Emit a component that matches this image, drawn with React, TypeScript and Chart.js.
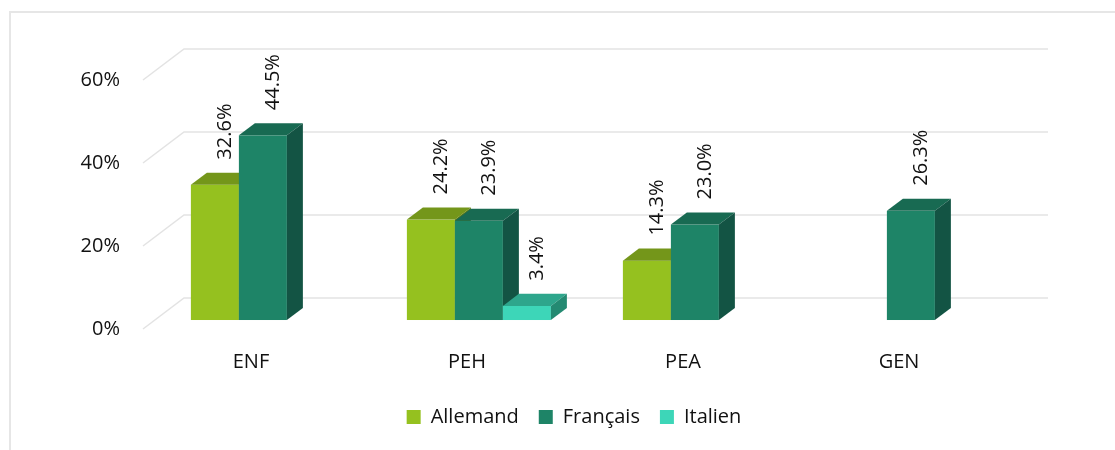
import React, { useEffect, useRef } from "react";
import { Chart, registerables } from "chart.js";

Chart.register(...registerables);

const categories = ["ENF", "PEH", "PEA", "GEN"];
const seriesNames = ["Allemand", "Français", "Italien"];
const allemand: (number | null)[] = [32.6, 24.2, 14.3, null];
const francais: (number | null)[] = [44.5, 23.9, 23.0, 26.3];
const italien: (number | null)[] = [null, 3.4, null, null];
const yTicks = [0, 20, 40, 60];

const FRONT = ["#95c11f", "#1e8467", "#3dd6b8"];
const TOP = ["#74961a", "#186a52", "#2ea68c"];
const SIDE = ["#5f7d14", "#135444", "#248a72"];

const WALL_DX = 41;
const WALL_DY = -31;
const BAR_F = 0.29;
const BAR_B = 0.68;

const FONT = { family: "'Open Sans', sans-serif", size: 20 };
const TEXT = "#111111";

const threeD = {
  id: "threeD",
  beforeDraw(chart: any) {
    const ctx = chart.ctx;
    ctx.save();
    ctx.fillStyle = "#ffffff";
    ctx.fillRect(0, 0, chart.width, chart.height);
    ctx.strokeStyle = "#e6e6e6";
    ctx.lineWidth = 2;
    ctx.strokeRect(10, 12, chart.width + 50, chart.height + 50);
    ctx.restore();
  },
  beforeDatasetsDraw(chart: any) {
    const { ctx, chartArea, scales } = chart;
    const ys = scales.y;
    ctx.save();
    ctx.strokeStyle = "#e3e3e3";
    ctx.lineWidth = 1.5;
    for (const t of yTicks) {
      const py = ys.getPixelForValue(t);
      ctx.beginPath();
      ctx.moveTo(chartArea.left, py);
      ctx.lineTo(chartArea.left + WALL_DX, py + WALL_DY);
      ctx.lineTo(chartArea.right + WALL_DX, py + WALL_DY);
      ctx.stroke();
    }
    const fx = WALL_DX * BAR_F;
    const fy = WALL_DY * BAR_F;
    const dx = WALL_DX * (BAR_B - BAR_F);
    const dy = WALL_DY * (BAR_B - BAR_F);
    const labels: { x: number; y: number; text: string }[] = [];
    for (let i = 0; i < categories.length; i++) {
      chart.data.datasets.forEach((ds: any, d: number) => {
        const v = ds.data[i];
        if (v == null) return;
        const el = chart.getDatasetMeta(d).data[i];
        const { x, y, base, width } = el.getProps(["x", "y", "base", "width"], true);
        const l = x - width / 2 + fx;
        const r = x + width / 2 + fx;
        const t = y + fy;
        const b = base + fy;
        ctx.fillStyle = FRONT[d];
        ctx.fillRect(l, t, r - l, b - t);
        ctx.fillStyle = TOP[d];
        ctx.beginPath();
        ctx.moveTo(l, t);
        ctx.lineTo(l + dx, t + dy);
        ctx.lineTo(r + dx, t + dy);
        ctx.lineTo(r, t);
        ctx.closePath();
        ctx.fill();
        ctx.fillStyle = SIDE[d];
        ctx.beginPath();
        ctx.moveTo(r, t);
        ctx.lineTo(r + dx, t + dy);
        ctx.lineTo(r + dx, b + dy);
        ctx.lineTo(r, b);
        ctx.closePath();
        ctx.fill();
        labels.push({ x: x + fx + dx / 2 + 2, y: t + dy - 13, text: v.toFixed(1) + "%" });
      });
    }
    ctx.fillStyle = TEXT;
    ctx.font = `${FONT.size}px ${FONT.family}`;
    ctx.textAlign = "left";
    ctx.textBaseline = "middle";
    for (const lb of labels) {
      ctx.save();
      ctx.translate(lb.x, lb.y);
      ctx.rotate(-Math.PI / 2);
      ctx.fillText(lb.text, 0, 0);
      ctx.restore();
    }
    ctx.restore();
    return false;
  },
};

export default function App() {
  const ref = useRef<HTMLCanvasElement | null>(null);
  useEffect(() => {
    if (!ref.current) return;
    const chart = new Chart(ref.current, {
      type: "bar",
      data: {
        labels: categories,
        datasets: [
          { label: seriesNames[0], data: allemand, backgroundColor: FRONT[0], borderWidth: 0 },
          { label: seriesNames[1], data: francais, backgroundColor: FRONT[1], borderWidth: 0 },
          { label: seriesNames[2], data: italien, backgroundColor: FRONT[2], borderWidth: 0 },
        ],
      },
      options: {
        animation: false,
        responsive: false,
        devicePixelRatio: 1,
        layout: { padding: { top: 80, left: 33, right: 0, bottom: 13 } },
        datasets: { bar: { categoryPercentage: 2 / 3, barPercentage: 1 } } as any,
        scales: {
          x: {
            grid: { display: false, drawTicks: false },
            border: { display: false },
            ticks: { font: FONT, color: TEXT, padding: 21 },
            afterFit(s: any) {
              s.height = 58;
            },
          },
          y: {
            min: 0,
            max: 60,
            afterBuildTicks(s: any) {
              s.ticks = yTicks.map((v) => ({ value: v }));
            },
            grid: { display: false, drawTicks: false },
            border: { display: false },
            ticks: { font: FONT, color: TEXT, padding: 23, callback: (v: any) => v + "%" },
            afterFit(s: any) {
              s.width = 110;
            },
          },
          y2: {
            type: "linear",
            position: "right",
            grid: { display: false, drawTicks: false },
            border: { display: false },
            ticks: { display: false },
            afterFit(s: any) {
              s.width = 108;
            },
          },
        } as any,
        plugins: {
          legend: {
            position: "bottom",
            labels: { boxWidth: 14, boxHeight: 14, padding: 20, font: FONT, color: TEXT },
          },
          tooltip: { enabled: false },
        },
      },
      plugins: [threeD],
    });
    return () => chart.destroy();
  }, []);
  return (
    <div style={{ position: "fixed", left: 0, top: 0, width: 1115, height: 450, background: "#fff" }}>
      <canvas ref={ref} width={1115} height={450} style={{ display: "block" }} />
    </div>
  );
}
